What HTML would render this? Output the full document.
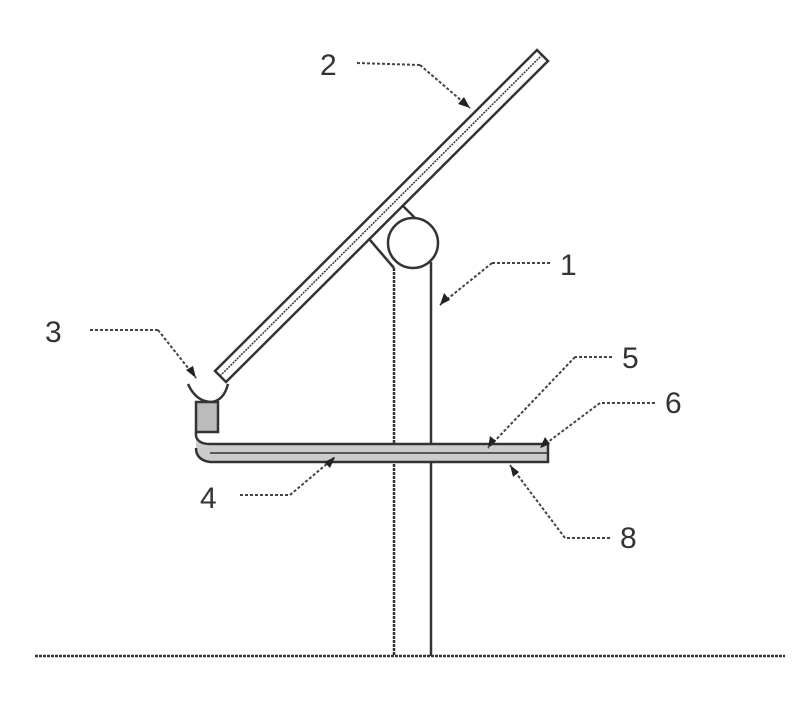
<!DOCTYPE html>
<html><head><style>
body{margin:0;background:#fff;width:801px;height:699px;overflow:hidden}
text{font-family:"Liberation Sans",sans-serif;font-size:30px;fill:#333}
</style></head><body>
<svg width="801" height="699" viewBox="0 0 801 699" xmlns="http://www.w3.org/2000/svg">
<g stroke="#333" fill="none" stroke-width="2.5">
<line x1="35" y1="656" x2="785" y2="656" stroke-dasharray="3,1"/>
<line x1="394" y1="268" x2="394" y2="656" stroke-dasharray="3,1"/>
<line x1="431" y1="262" x2="431" y2="656"/>
<polygon points="215,371 537,50 548,61 226,382" fill="#fff"/>
<line x1="220" y1="376" x2="542" y2="55" stroke-width="1.5" stroke-dasharray="2,1"/>
<line x1="370" y1="240" x2="394" y2="268"/>
<line x1="402" y1="205" x2="415" y2="218"/>
<circle cx="413" cy="243" r="25" fill="#fff"/>
<path d="M188,384 Q196,402 212,402 Q224,400 228,384"/>
<rect x="196" y="402" width="22" height="30" fill="#bbb"/>
<path d="M196,432 L196,436 Q198,444 210,444 L548,444 L548,462 L210,462 Q196,460 196,448" fill="#ccc"/>
<line x1="210" y1="453" x2="548" y2="453" stroke-width="1.5"/>
</g>
<g stroke="#444" stroke-width="2" stroke-dasharray="3,2" fill="none">
<line x1="357" y1="63" x2="420" y2="65"/><line x1="420" y1="65" x2="470" y2="108"/>
<line x1="550" y1="263" x2="492" y2="263"/><line x1="492" y1="263" x2="440" y2="305"/>
<line x1="90" y1="330" x2="158" y2="330"/><line x1="158" y1="330" x2="196" y2="378"/>
<line x1="612" y1="357" x2="575" y2="357"/><line x1="575" y1="357" x2="488" y2="448"/>
<line x1="655" y1="403" x2="600" y2="403"/><line x1="600" y1="403" x2="540" y2="448"/>
<line x1="240" y1="495" x2="290" y2="495"/><line x1="290" y1="495" x2="335" y2="457"/>
<line x1="610" y1="538" x2="565" y2="538"/><line x1="565" y1="538" x2="510" y2="465"/>
</g>
<g fill="#222">
<polygon points="470,108 458,104 464,97"/>
<polygon points="440,305 444,293 450,300"/>
<polygon points="196,378 186,370 193,366"/>
<polygon points="488,448 490,436 496,441"/>
<polygon points="540,448 545,437 550,444"/>
<polygon points="335,457 330,468 324,462"/>
<polygon points="510,465 519,472 513,477"/>
</g>
<text x="320" y="75">2</text>
<text x="560" y="275">1</text>
<text x="45" y="342">3</text>
<text x="622" y="368">5</text>
<text x="665" y="413">6</text>
<text x="200" y="508">4</text>
<text x="620" y="548">8</text>
</svg>
</body></html>
